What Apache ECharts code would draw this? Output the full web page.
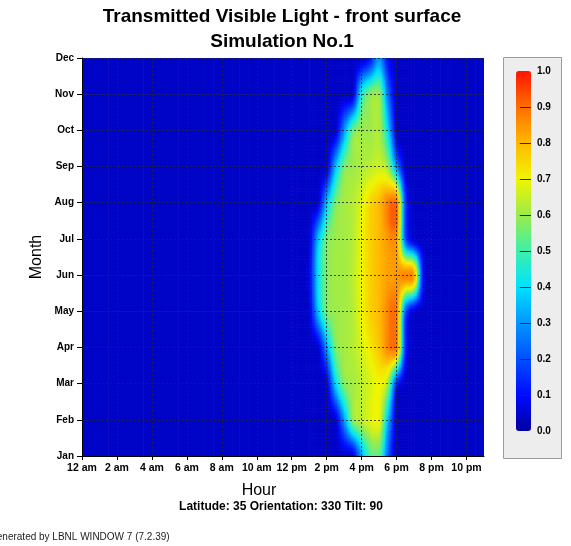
<!DOCTYPE html>
<html>
<head>
<meta charset="utf-8">
<script src="https://cdn.jsdelivr.net/npm/echarts@6/dist/echarts.min.js"></script>
<style>
  html, body { margin: 0; padding: 0; background: #ffffff; }
  #chart { width: 571px; height: 546px; }
</style>
</head>
<body>
<div id="chart"></div>
<script>
// Month rows (Jan at the bottom of the plot, Dec at the top)
const months = ['Jan', 'Feb', 'Mar', 'Apr', 'May', 'Jun', 'Jul', 'Aug', 'Sep', 'Oct', 'Nov', 'Dec'];
// Time of day in hours, half-hour steps
const hours = [0, 0.5, 1, 1.5, 2, 2.5, 3, 3.5, 4, 4.5, 5, 5.5, 6, 6.5, 7, 7.5, 8, 8.5, 9, 9.5,
  10, 10.5, 11, 11.5, 12, 12.5, 13, 13.5, 14, 14.5, 15, 15.5, 16, 16.5, 17, 17.5, 18, 18.5,
  19, 19.5, 20, 20.5, 21, 21.5, 22, 22.5, 23];
const hourTicks = [0, 2, 4, 6, 8, 10, 12, 14, 16, 18, 20, 22];
const hourLabels = ['12 am', '2 am', '4 am', '6 am', '8 am', '10 am', '12 pm', '2 pm', '4 pm', '6 pm', '8 pm', '10 pm'];
const scaleTicks = [0.1, 0.2, 0.3, 0.4, 0.5, 0.6, 0.7, 0.8, 0.9];

// Transmitted visible light per month, one value per entry of `hours`
const jan = [0.04, 0.04, 0.04, 0.04, 0.04, 0.04, 0.04, 0.04, 0.04, 0.04, 0.04, 0.04, 0.04, 0.04, 0.04, 0.04, 0.04, 0.04, 0.04, 0.04, 0.04, 0.04, 0.04, 0.04, 0.04, 0.04,
  0.04, 0.04, 0.04, 0.04, 0.04, 0.05, 0.32, 0.52, 0.54, 0.22, 0.04, 0.04, 0.04, 0.04, 0.04,
  0.04, 0.04, 0.04, 0.04, 0.04, 0.04];
const feb = [0.04, 0.04, 0.04, 0.04, 0.04, 0.04, 0.04, 0.04, 0.04, 0.04, 0.04, 0.04, 0.04, 0.04, 0.04, 0.04, 0.04, 0.04, 0.04, 0.04, 0.04, 0.04, 0.04, 0.04, 0.04, 0.04,
  0.04, 0.04, 0.04, 0.05, 0.30, 0.58, 0.64, 0.68, 0.70, 0.35, 0.04, 0.04, 0.04, 0.04, 0.04,
  0.04, 0.04, 0.04, 0.04, 0.04, 0.04];
const mar = [0.04, 0.04, 0.04, 0.04, 0.04, 0.04, 0.04, 0.04, 0.04, 0.04, 0.04, 0.04, 0.04, 0.04, 0.04, 0.04, 0.04, 0.04, 0.04, 0.04, 0.04, 0.04, 0.04, 0.04, 0.04, 0.04,
  0.04, 0.04, 0.06, 0.38, 0.57, 0.61, 0.64, 0.67, 0.70, 0.60, 0.14, 0.04, 0.04, 0.04, 0.04,
  0.04, 0.04, 0.04, 0.04, 0.04, 0.04];
const apr = [0.04, 0.04, 0.04, 0.04, 0.04, 0.04, 0.04, 0.04, 0.04, 0.04, 0.04, 0.04, 0.04, 0.04, 0.04, 0.04, 0.04, 0.04, 0.04, 0.04, 0.04, 0.04, 0.04, 0.04, 0.04, 0.04,
  0.04, 0.05, 0.30, 0.56, 0.61, 0.63, 0.67, 0.72, 0.78, 0.87, 0.90, 0.15, 0.04, 0.04, 0.04,
  0.04, 0.04, 0.04, 0.04, 0.04, 0.04];
const may = [0.04, 0.04, 0.04, 0.04, 0.04, 0.04, 0.04, 0.04, 0.04, 0.04, 0.04, 0.04, 0.04, 0.04, 0.04, 0.04, 0.04, 0.04, 0.04, 0.04, 0.04, 0.04, 0.04, 0.04, 0.04, 0.04,
  0.05, 0.35, 0.56, 0.60, 0.61, 0.63, 0.70, 0.76, 0.80, 0.87, 0.90, 0.22, 0.04, 0.04, 0.04,
  0.04, 0.04, 0.04, 0.04, 0.04, 0.04];
const jun = [0.04, 0.04, 0.04, 0.04, 0.04, 0.04, 0.04, 0.04, 0.04, 0.04, 0.04, 0.04, 0.04, 0.04, 0.04, 0.04, 0.04, 0.04, 0.04, 0.04, 0.04, 0.04, 0.04, 0.04, 0.04, 0.04,
  0.08, 0.40, 0.57, 0.61, 0.61, 0.64, 0.70, 0.76, 0.80, 0.83, 0.84, 0.87, 0.82, 0.12, 0.04,
  0.04, 0.04, 0.04, 0.04, 0.04, 0.04];
const jul = [0.04, 0.04, 0.04, 0.04, 0.04, 0.04, 0.04, 0.04, 0.04, 0.04, 0.04, 0.04, 0.04, 0.04, 0.04, 0.04, 0.04, 0.04, 0.04, 0.04, 0.04, 0.04, 0.04, 0.04, 0.04, 0.04,
  0.05, 0.35, 0.56, 0.60, 0.61, 0.63, 0.70, 0.76, 0.80, 0.84, 0.86, 0.22, 0.04, 0.04, 0.04,
  0.04, 0.04, 0.04, 0.04, 0.04, 0.04];
const aug = [0.04, 0.04, 0.04, 0.04, 0.04, 0.04, 0.04, 0.04, 0.04, 0.04, 0.04, 0.04, 0.04, 0.04, 0.04, 0.04, 0.04, 0.04, 0.04, 0.04, 0.04, 0.04, 0.04, 0.04, 0.04, 0.04,
  0.04, 0.06, 0.35, 0.56, 0.61, 0.63, 0.68, 0.75, 0.80, 0.88, 0.92, 0.18, 0.04, 0.04, 0.04,
  0.04, 0.04, 0.04, 0.04, 0.04, 0.04];
const sep = [0.04, 0.04, 0.04, 0.04, 0.04, 0.04, 0.04, 0.04, 0.04, 0.04, 0.04, 0.04, 0.04, 0.04, 0.04, 0.04, 0.04, 0.04, 0.04, 0.04, 0.04, 0.04, 0.04, 0.04, 0.04, 0.04,
  0.04, 0.04, 0.05, 0.35, 0.56, 0.60, 0.62, 0.64, 0.66, 0.60, 0.30, 0.04, 0.04, 0.04, 0.04,
  0.04, 0.04, 0.04, 0.04, 0.04, 0.04];
const oct = [0.04, 0.04, 0.04, 0.04, 0.04, 0.04, 0.04, 0.04, 0.04, 0.04, 0.04, 0.04, 0.04, 0.04, 0.04, 0.04, 0.04, 0.04, 0.04, 0.04, 0.04, 0.04, 0.04, 0.04, 0.04, 0.04,
  0.04, 0.04, 0.04, 0.05, 0.30, 0.55, 0.60, 0.60, 0.62, 0.40, 0.05, 0.04, 0.04, 0.04, 0.04,
  0.04, 0.04, 0.04, 0.04, 0.04, 0.04];
const nov = [0.04, 0.04, 0.04, 0.04, 0.04, 0.04, 0.04, 0.04, 0.04, 0.04, 0.04, 0.04, 0.04, 0.04, 0.04, 0.04, 0.04, 0.04, 0.04, 0.04, 0.04, 0.04, 0.04, 0.04, 0.04, 0.04,
  0.04, 0.04, 0.04, 0.04, 0.04, 0.06, 0.45, 0.58, 0.60, 0.25, 0.04, 0.04, 0.04, 0.04, 0.04,
  0.04, 0.04, 0.04, 0.04, 0.04, 0.04];
const dec = [0.04, 0.04, 0.04, 0.04, 0.04, 0.04, 0.04, 0.04, 0.04, 0.04, 0.04, 0.04, 0.04, 0.04, 0.04, 0.04, 0.04, 0.04, 0.04, 0.04, 0.04, 0.04, 0.04, 0.04, 0.04, 0.04,
  0.04, 0.04, 0.04, 0.04, 0.04, 0.04, 0.04, 0.12, 0.30, 0.10, 0.04, 0.04, 0.04, 0.04, 0.04,
  0.04, 0.04, 0.04, 0.04, 0.04, 0.04];
const rows = [jan, feb, mar, apr, may, jun, jul, aug, sep, oct, nov, dec];

// Colour scale, evenly spaced from 0.0 to 1.0
const palette = [
  'rgb(0,0,160)', 'rgb(0,10,255)', 'rgb(0,80,255)', 'rgb(0,150,255)', 'rgb(0,225,255)',
  'rgb(60,240,170)', 'rgb(155,235,75)', 'rgb(240,245,0)', 'rgb(255,185,0)', 'rgb(255,110,0)', 'rgb(255,20,0)'
];

const FONT = '"Liberation Sans", Arial, Helvetica, sans-serif';

const colorCache = {};
function colorOf(v) {
  const t = Math.max(0, Math.min(1, v));
  const key = Math.round(t * 1000);
  if (!colorCache[key]) colorCache[key] = echarts.color.lerp(key / 1000, palette);
  return colorCache[key];
}

function nodeValue(i, j) {
  const ii = Math.max(0, Math.min(hours.length - 1, i));
  const jj = Math.max(0, Math.min(months.length - 1, j));
  return rows[jj][ii];
}

// Catmull-Rom segment between p1 and p2, kept within the two end values
function spline(p0, p1, p2, p3, t) {
  const v = p1 + 0.5 * t * (p2 - p0 + t * (2 * p0 - 5 * p1 + 4 * p2 - p3 + t * (3 * (p1 - p2) + p3 - p0)));
  const lo = Math.min(p1, p2), hi = Math.max(p1, p2);
  return Math.max(lo, Math.min(hi, v));
}

// Each data node paints the patch up to the next time step / next month,
// shading it smoothly from the surrounding nodes.
function renderPatch(params, api) {
  const i = api.value(3);
  const j = api.value(1);
  if (i >= hours.length - 1 || j >= months.length - 1) return null;
  const a = api.coord([hours[i], j]);
  const b = api.coord([hours[i + 1], j + 1]);
  const x0 = a[0], x1 = b[0], yBot = a[1], yTop = b[1];
  const P = [];
  const v0 = nodeValue(i, j);
  let flat = true;
  for (let dj = -1; dj <= 2; dj++) {
    const r = [];
    for (let di = -1; di <= 2; di++) {
      const v = nodeValue(i + di, j + dj);
      if (v !== v0) flat = false;
      r.push(v);
    }
    P.push(r);
  }
  if (flat) {
    return {
      type: 'rect',
      shape: { x: x0, y: yTop, width: x1 - x0 + 0.6, height: yBot - yTop + 0.6 },
      style: { fill: colorOf(v0) }
    };
  }
  const nx = Math.max(1, Math.ceil((x1 - x0) / 1.5));
  const ny = Math.max(1, Math.ceil((yBot - yTop) / 1.5));
  const dx = (x1 - x0) / nx, dy = (yBot - yTop) / ny;
  const children = [];
  for (let sy = 0; sy < ny; sy++) {
    const ty = (sy + 0.5) / ny;
    const col = [0, 1, 2, 3].map(k => spline(P[0][k], P[1][k], P[2][k], P[3][k], ty));
    for (let sx = 0; sx < nx; sx++) {
      const tx = (sx + 0.5) / nx;
      const v = spline(col[0], col[1], col[2], col[3], tx);
      children.push({
        type: 'rect',
        shape: { x: x0 + sx * dx, y: yBot - (sy + 1) * dy, width: dx + 0.6, height: dy + 0.6 },
        style: { fill: colorOf(v) }
      });
    }
  }
  return { type: 'group', children };
}

// Short dark marks across the colour bar at each tenth
function renderScaleMark(params, api) {
  const v = api.value(0);
  const left = api.coord([0.25, v]);
  const right = api.coord([1, v]);
  const y = Math.round(left[1]) + 0.5;
  return {
    type: 'line',
    shape: { x1: left[0], y1: y, x2: right[0], y2: y },
    style: { stroke: '#2b2b2b', lineWidth: 1 }
  };
}

// [hour, month index, value, column index]
const seriesData = [];
rows.forEach((row, j) => {
  row.forEach((v, i) => seriesData.push([hours[i], j, v, i]));
});

const chart = echarts.init(document.getElementById('chart'), null, { renderer: 'canvas' });

chart.setOption({
  animation: false,
  backgroundColor: '#ffffff',
  textStyle: { fontFamily: FONT },
  grid: [
    { left: 82, top: 58, width: 402, height: 398, show: false },
    { left: 516, top: 71, width: 15, height: 360, show: false }
  ],
  xAxis: [
    {
      gridIndex: 0, type: 'value', min: 0, max: 23, interval: 2, z: 6,
      axisLine: { show: true, onZero: false, lineStyle: { color: '#000', width: 1 } },
      axisTick: { show: true, length: 4, customValues: hourTicks, lineStyle: { color: '#000' } },
      axisLabel: {
        customValues: hourTicks, margin: 7, color: '#000', fontSize: 10.5, fontWeight: 'bold', fontFamily: FONT,
        formatter: v => hourLabels[hourTicks.indexOf(v)] || ''
      },
      splitLine: { show: true, lineStyle: { color: '#262626', width: 1, type: [2, 2], opacity: 0.8 } }
    },
    { gridIndex: 1, type: 'value', min: 0, max: 1, show: false }
  ],
  yAxis: [
    {
      gridIndex: 0, type: 'value', min: 0, max: 11, interval: 1, z: 6,
      axisLine: { show: true, onZero: false, lineStyle: { color: '#000', width: 1 } },
      axisTick: { show: true, length: 5, lineStyle: { color: '#000' } },
      axisLabel: {
        margin: 8, color: '#000', fontSize: 10, fontWeight: 'bold', fontFamily: FONT,
        formatter: v => months[v] || ''
      },
      splitLine: { show: true, lineStyle: { color: '#262626', width: 1, type: [2, 2], opacity: 0.8 } }
    },
    {
      gridIndex: 1, type: 'value', min: 0, max: 1, interval: 0.1, position: 'right',
      axisLine: { show: false },
      axisTick: { show: false },
      axisLabel: {
        margin: 6, color: '#000', fontSize: 10, fontWeight: 'bold', fontFamily: FONT,
        formatter: v => v.toFixed(1)
      },
      splitLine: { show: false }
    }
  ],
  visualMap: {
    type: 'continuous', seriesIndex: 0, dimension: 2, min: 0, max: 1,
    calculable: false, hoverLink: false, show: true,
    left: 516, top: 71, itemWidth: 15, itemHeight: 360, padding: 0, z: 5,
    inRange: { color: palette }
  },
  series: [
    {
      type: 'custom', coordinateSystem: 'cartesian2d', xAxisIndex: 0, yAxisIndex: 0,
      data: seriesData, encode: { x: 0, y: 1 }, renderItem: renderPatch, clip: true, silent: true, z: 2
    },
    {
      type: 'custom', coordinateSystem: 'cartesian2d', xAxisIndex: 1, yAxisIndex: 1,
      data: scaleTicks.map(v => [v]), encode: { y: 0 }, renderItem: renderScaleMark, silent: true, z: 20
    }
  ],
  graphic: [
    {
      type: 'rect', z: 0, silent: true,
      shape: { x: 503.5, y: 57.5, width: 58, height: 401 },
      style: { fill: '#ededed', stroke: '#9c9c9c', lineWidth: 1 }
    },
    {
      type: 'text', x: 282, y: 17, silent: true,
      style: { text: 'Transmitted Visible Light - front surface', font: 'bold 19px ' + FONT, fill: '#000', textAlign: 'center', textVerticalAlign: 'middle' }
    },
    {
      type: 'text', x: 282, y: 42, silent: true,
      style: { text: 'Simulation No.1', font: 'bold 19px ' + FONT, fill: '#000', textAlign: 'center', textVerticalAlign: 'middle' }
    },
    {
      type: 'text', x: 37, y: 257, rotation: Math.PI / 2, silent: true,
      style: { text: 'Month', font: '16px ' + FONT, fill: '#000', textAlign: 'center', textVerticalAlign: 'middle' }
    },
    {
      type: 'text', x: 259, y: 491, silent: true,
      style: { text: 'Hour', font: '16px ' + FONT, fill: '#000', textAlign: 'center', textVerticalAlign: 'middle' }
    },
    {
      type: 'text', x: 281, y: 507, silent: true,
      style: { text: 'Latitude: 35 Orientation: 330 Tilt: 90', font: 'bold 12px ' + FONT, fill: '#000', textAlign: 'center', textVerticalAlign: 'middle' }
    },
    {
      type: 'text', x: -11, y: 537, silent: true,
      style: { text: 'Generated by LBNL WINDOW 7 (7.2.39)', font: '10px ' + FONT, fill: '#222', textAlign: 'left', textVerticalAlign: 'middle' }
    }
  ]
});
</script>
</body>
</html>
